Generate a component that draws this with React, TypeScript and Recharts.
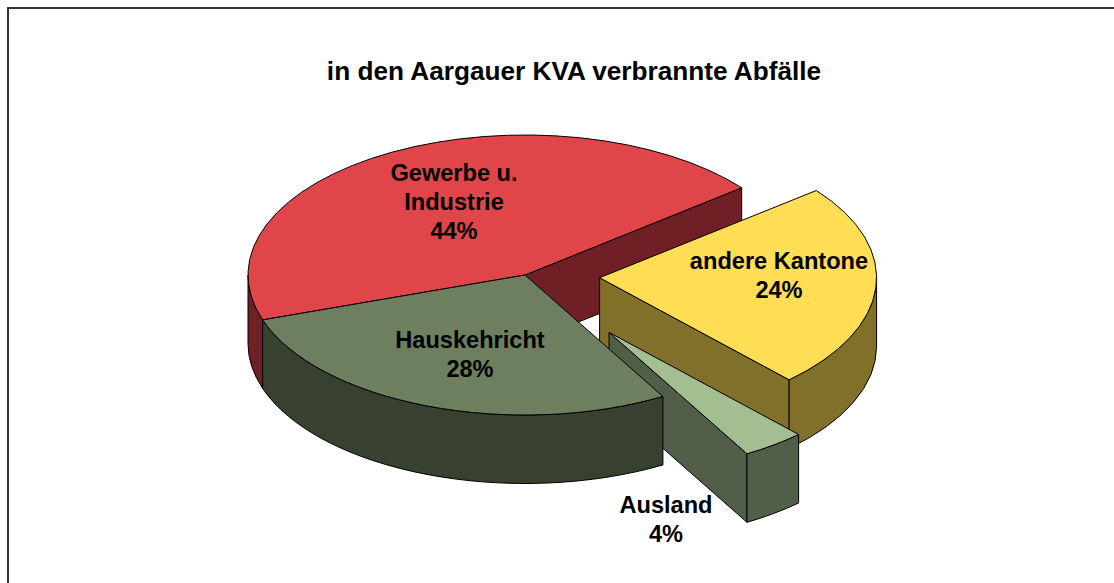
import React from "react";
import { PieChart, Pie, Customized } from "recharts";

const categories = ["Gewerbe u. Industrie", "andere Kantone", "Ausland", "Hauskehricht"];
const shares = [44.49, 23.71, 3.7, 28.1];
const title = "in den Aargauer KVA verbrannte Abfälle";

const W = 1114, H = 583;
const CX = 525, CY = 275, RX = 277;
const SQUASH = 140 / 277;
const DEPTH = 68.5;

const topColors: Record<string, string> = {
  "Gewerbe u. Industrie": "#E0454A",
  "Hauskehricht": "#6E7F60",
  "Ausland": "#A3BE90",
  "andere Kantone": "#FFDE55",
};
const sideColors: Record<string, string> = {
  "Gewerbe u. Industrie": "#702025",
  "Hauskehricht": "#384030",
  "Ausland": "#525F48",
  "andere Kantone": "#80702A",
};
const explode: Record<string, number> = { "andere Kantone": 0.27, "Ausland": 0.51 };
const labelLines: Record<string, string[]> = {
  "Gewerbe u. Industrie": ["Gewerbe u.", "Industrie"],
  "Hauskehricht": ["Hauskehricht"],
  "Ausland": ["Ausland"],
  "andere Kantone": ["andere Kantone"],
};
const labelPos: Record<string, [number, number]> = {
  "Gewerbe u. Industrie": [-71, -94],
  "Hauskehricht": [-55, 73],
  "Ausland": [141, 238],
  "andere Kantone": [254, -6],
};

const rad = (d: number) => (d * Math.PI) / 180;

function Slice3D(props: any) {
  const { cx, cy, outerRadius, startAngle, endAngle, name, payload } = props;
  const key = name ?? payload?.name;
  const a1 = Math.min(startAngle, endAngle);
  const a2 = Math.max(startAngle, endAngle);
  const mid = (a1 + a2) / 2;
  const e = (explode[key] ?? 0) * outerRadius;
  const ox = cx + e * Math.cos(rad(mid));
  const oy = cy - e * Math.sin(rad(mid)) * SQUASH;
  const rx = outerRadius;
  const ry = outerRadius * SQUASH;
  const pt = (a: number, d = 0): [number, number] => [
    ox + rx * Math.cos(rad(a)),
    oy - ry * Math.sin(rad(a)) + d,
  ];
  const arc = (from: number, to: number, d: number) => {
    const [x, y] = pt(to, d);
    const sweep = to > from ? 0 : 1;
    const large = Math.abs(to - from) > 180 ? 1 : 0;
    return `A${rx} ${ry} 0 ${large} ${sweep} ${x} ${y}`;
  };
  const M = (p: [number, number]) => `M${p[0]} ${p[1]}`;
  const L = (p: [number, number]) => `L${p[0]} ${p[1]}`;
  const side = sideColors[key];
  const stroke = { stroke: "#000", strokeWidth: 1, strokeLinejoin: "round" as const };

  const faces: string[] = [];
  const face = (a: number) => {
    const c: [number, number] = [ox, oy];
    const c2: [number, number] = [ox, oy + DEPTH];
    const p = pt(a);
    const p2 = pt(a, DEPTH);
    return `${M(c)}${L(p)}${L(p2)}${L(c2)}Z`;
  };
  if (Math.cos(rad(a1)) > 0) faces.push(face(a1));
  if (Math.cos(rad(a2)) < 0) faces.push(face(a2));

  // Outer wall: the parts of the rim on the near half of the ellipse.
  const walls: string[] = [];
  for (const [lo, hi] of [[-180, 0], [180, 360]]) {
    const s = Math.max(a1, lo);
    const t = Math.min(a2, hi);
    if (t > s) {
      walls.push(`${M(pt(s))}${arc(s, t, 0)}${L(pt(t, DEPTH))}${arc(t, s, DEPTH)}Z`);
    }
  }
  const top = `M${ox} ${oy}${L(pt(a1))}${arc(a1, a2, 0)}Z`;

  return (
    <g>
      {faces.map((d, i) => <path key={`f${i}`} d={d} fill={side} {...stroke} />)}
      {walls.map((d, i) => <path key={`w${i}`} d={d} fill={side} {...stroke} />)}
      <path d={top} fill={topColors[key]} {...stroke} />
    </g>
  );
}

function SliceLabel(props: any) {
  const { cx, cy, name, value, payload } = props;
  const key = name ?? payload?.name;
  const [dx, dy] = labelPos[key];
  const lines = [...labelLines[key], `${Math.round(value)}%`];
  return (
    <text
      x={cx + dx}
      y={cy + dy}
      textAnchor="middle"
      fontFamily="'Liberation Sans', Arial, sans-serif"
      fontWeight={700}
      fontSize={23.6}
      fill="#000"
    >
      {lines.map((l, i) => (
        <tspan key={i} x={cx + dx} dy={i === 0 ? 0 : 29}>{l}</tspan>
      ))}
    </text>
  );
}

const data = categories.map((name, i) => ({ name, value: shares[i] }));

export default function App() {
  return (
    <div style={{ position: "absolute", left: 0, top: 0, width: W, height: H, background: "#fff" }}>
      <PieChart width={W} height={H} margin={{ top: 0, right: 0, bottom: 0, left: 0 }}>
        <Customized component={() => (
          <path d={`M8 ${H}V8H${W}`} fill="none" stroke="#333" strokeWidth={2} />
        )} />
        <text
          x={574}
          y={80}
          textAnchor="middle"
          fontFamily="'Liberation Sans', Arial, sans-serif"
          fontWeight={700}
          fontSize={26.2}
          fill="#000"
        >
          {title}
        </text>
        <Pie
          data={data}
          dataKey="value"
          nameKey="name"
          cx={CX}
          cy={CY}
          innerRadius={0}
          outerRadius={RX}
          startAngle={198.7}
          endAngle={-161.3}
          paddingAngle={0}
          isAnimationActive={false}
          shape={Slice3D}
          label={SliceLabel}
          labelLine={false}
        />
      </PieChart>
    </div>
  );
}
